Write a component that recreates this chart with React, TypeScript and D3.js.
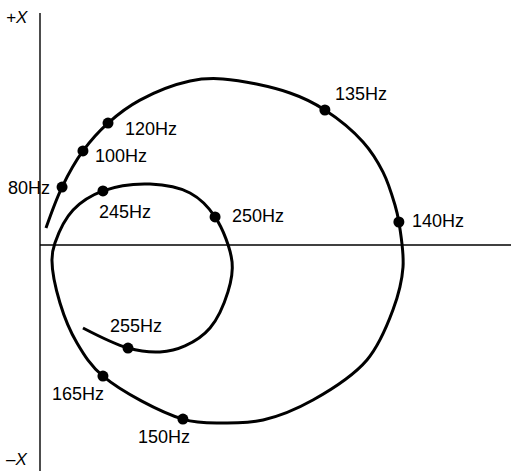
import React, { useEffect, useRef } from "react";
import * as d3 from "d3";

// impedance locus, resistance (R) and reactance (X)
const curveR = [
  0.26, 0.96, 1.87, 2.96, 4.35, 6.53, 7.96, 10.88, 12.4, 14.06, 14.93, 15.45,
  15.62, 15.8, 15.36, 14.23, 11.88, 9.71, 7.96, 6.22, 2.74, 1.61, 0.87, 0.52,
  0.65, 1.44, 2.74, 4.79, 6.53, 7.62, 8.36, 8.18, 7.4, 6.31, 5.22, 3.83, 1.87,
];
const curveX = [
  0.74, 2.52, 4.09, 5.3, 6.3, 7.13, 7.22, 6.61, 5.87, 4.48, 3.17, 1.74, 1.0,
  -0.96, -2.83, -5.0, -6.74, -7.61, -7.74, -7.57, -5.7, -4.26, -2.52, -0.65,
  0.09, 1.52, 2.35, 2.65, 2.26, 1.22, -0.74, -2.04, -3.61, -4.39, -4.65, -4.48,
  -3.61,
];

// marked frequencies on the locus
const markerFreqs = [80, 100, 120, 135, 140, 150, 165, 245, 250, 255];
const markerR = [0.96, 1.87, 2.96, 12.4, 15.62, 6.22, 2.74, 2.74, 7.62, 3.83];
const markerX = [2.52, 4.09, 5.3, 5.87, 1.0, -7.57, -5.7, 2.35, 1.22, -4.48];

// where each label sits relative to its dot (pixels)
const labelOffset: Record<number, [number, number, string]> = {
  80: [-12, 7, "end"],
  100: [12, 11, "start"],
  120: [17, 12, "start"],
  135: [10, -10, "start"],
  140: [13, 5, "start"],
  150: [-45, 24, "start"],
  165: [-51, 24, "start"],
  245: [-4, 27, "start"],
  250: [17, 5, "start"],
  255: [-18, -16, "start"],
};

function ImpedanceChart() {
  const ref = useRef<SVGSVGElement>(null);

  useEffect(() => {
    const width = 511;
    const height = 471;
    const svg = d3.select(ref.current);
    svg.selectAll("*").remove();

    const xScale = d3.scaleLinear().domain([0, 20.5]).range([40, width]);
    const yScale = d3.scaleLinear().domain([-10, 10]).range([475, 15]);

    // axes
    svg
      .append("line")
      .attr("x1", xScale(0))
      .attr("x2", xScale(0))
      .attr("y1", yScale(10.09))
      .attr("y2", height)
      .attr("stroke", "#000")
      .attr("stroke-width", 1.4);
    svg
      .append("line")
      .attr("x1", xScale(0))
      .attr("x2", width)
      .attr("y1", yScale(0))
      .attr("y2", yScale(0))
      .attr("stroke", "#000")
      .attr("stroke-width", 1.4);

    svg
      .append("text")
      .attr("x", 6)
      .attr("y", 23)
      .attr("font-style", "italic")
      .attr("font-size", 17)
      .text("+X");
    svg
      .append("text")
      .attr("x", 6)
      .attr("y", 465)
      .attr("font-style", "italic")
      .attr("font-size", 17)
      .text("–X");

    // the locus
    const pts = curveR.map((r, i) => [r, curveX[i]] as [number, number]);
    const line = d3
      .line<[number, number]>()
      .x((d) => xScale(d[0]))
      .y((d) => yScale(d[1]))
      .curve(d3.curveCatmullRom.alpha(0.5));

    svg
      .append("path")
      .datum(pts)
      .attr("d", line)
      .attr("fill", "none")
      .attr("stroke", "#000")
      .attr("stroke-width", 3);

    // dots + labels
    const markers = markerFreqs.map((f, i) => ({
      f,
      r: markerR[i],
      x: markerX[i],
    }));

    svg
      .selectAll(".dot")
      .data(markers)
      .join("circle")
      .attr("class", "dot")
      .attr("cx", (d) => xScale(d.r))
      .attr("cy", (d) => yScale(d.x))
      .attr("r", 5.5)
      .attr("fill", "#000");

    svg
      .selectAll(".lbl")
      .data(markers)
      .join("text")
      .attr("class", "lbl")
      .attr("x", (d) => xScale(d.r) + labelOffset[d.f][0])
      .attr("y", (d) => yScale(d.x) + labelOffset[d.f][1])
      .attr("text-anchor", (d) => labelOffset[d.f][2])
      .attr("font-size", 18)
      .text((d) => `${d.f}Hz`);
  }, []);

  return (
    <svg
      ref={ref}
      width={511}
      height={471}
      style={{
        position: "absolute",
        left: 0,
        top: 0,
        background: "#fff",
        fontFamily: "'Liberation Sans', Arial, sans-serif",
      }}
    />
  );
}

export default function App() {
  return <ImpedanceChart />;
}
